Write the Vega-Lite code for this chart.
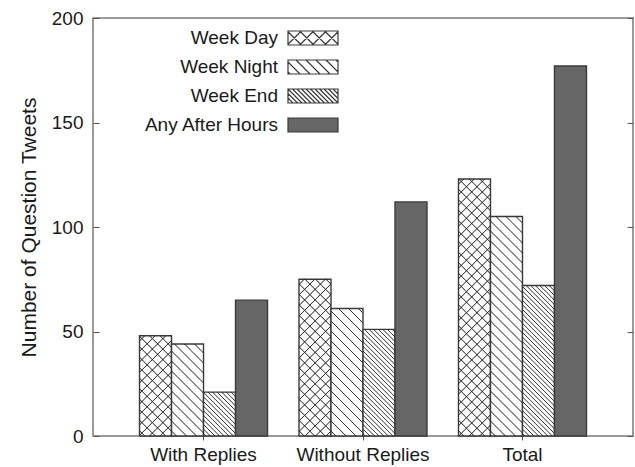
{
  "$schema": "https://vega.github.io/schema/vega-lite/v6.json",
  "width": 540,
  "height": 418,
  "autosize": {"type": "none"},
  "padding": {"left": 93, "top": 18, "right": 2, "bottom": 31},
  "background": "white",
  "config": {
    "font": "Liberation Sans",
    "view": {"stroke": "#7a7a7a", "strokeWidth": 1.5}
  },
  "params": [
    {"name": "nightStops", "value": [
      {"offset":0.016,"color":"transparent"},{"offset":0.02,"color":"#333"},{"offset":0.024,"color":"transparent"},
      {"offset":0.056,"color":"transparent"},{"offset":0.06,"color":"#333"},{"offset":0.064,"color":"transparent"},
      {"offset":0.096,"color":"transparent"},{"offset":0.1,"color":"#333"},{"offset":0.104,"color":"transparent"},
      {"offset":0.136,"color":"transparent"},{"offset":0.14,"color":"#333"},{"offset":0.144,"color":"transparent"},
      {"offset":0.176,"color":"transparent"},{"offset":0.18,"color":"#333"},{"offset":0.184,"color":"transparent"},
      {"offset":0.216,"color":"transparent"},{"offset":0.22,"color":"#333"},{"offset":0.224,"color":"transparent"},
      {"offset":0.256,"color":"transparent"},{"offset":0.26,"color":"#333"},{"offset":0.264,"color":"transparent"},
      {"offset":0.296,"color":"transparent"},{"offset":0.3,"color":"#333"},{"offset":0.304,"color":"transparent"},
      {"offset":0.336,"color":"transparent"},{"offset":0.34,"color":"#333"},{"offset":0.344,"color":"transparent"},
      {"offset":0.376,"color":"transparent"},{"offset":0.38,"color":"#333"},{"offset":0.384,"color":"transparent"},
      {"offset":0.416,"color":"transparent"},{"offset":0.42,"color":"#333"},{"offset":0.424,"color":"transparent"},
      {"offset":0.456,"color":"transparent"},{"offset":0.46,"color":"#333"},{"offset":0.464,"color":"transparent"},
      {"offset":0.496,"color":"transparent"},{"offset":0.5,"color":"#333"},{"offset":0.504,"color":"transparent"},
      {"offset":0.536,"color":"transparent"},{"offset":0.54,"color":"#333"},{"offset":0.544,"color":"transparent"},
      {"offset":0.576,"color":"transparent"},{"offset":0.58,"color":"#333"},{"offset":0.584,"color":"transparent"},
      {"offset":0.616,"color":"transparent"},{"offset":0.62,"color":"#333"},{"offset":0.624,"color":"transparent"},
      {"offset":0.656,"color":"transparent"},{"offset":0.66,"color":"#333"},{"offset":0.664,"color":"transparent"},
      {"offset":0.696,"color":"transparent"},{"offset":0.7,"color":"#333"},{"offset":0.704,"color":"transparent"},
      {"offset":0.736,"color":"transparent"},{"offset":0.74,"color":"#333"},{"offset":0.744,"color":"transparent"},
      {"offset":0.776,"color":"transparent"},{"offset":0.78,"color":"#333"},{"offset":0.784,"color":"transparent"},
      {"offset":0.816,"color":"transparent"},{"offset":0.82,"color":"#333"},{"offset":0.824,"color":"transparent"},
      {"offset":0.856,"color":"transparent"},{"offset":0.86,"color":"#333"},{"offset":0.864,"color":"transparent"},
      {"offset":0.896,"color":"transparent"},{"offset":0.9,"color":"#333"},{"offset":0.904,"color":"transparent"},
      {"offset":0.936,"color":"transparent"},{"offset":0.94,"color":"#333"},{"offset":0.944,"color":"transparent"},
      {"offset":0.976,"color":"transparent"},{"offset":0.98,"color":"#333"},{"offset":0.984,"color":"transparent"}
    ]},
    {"name": "endStops", "value": [
      {"offset":0.0075,"color":"transparent"},{"offset":0.0125,"color":"#333"},{"offset":0.0175,"color":"transparent"},
      {"offset":0.0325,"color":"transparent"},{"offset":0.0375,"color":"#333"},{"offset":0.0425,"color":"transparent"},
      {"offset":0.0575,"color":"transparent"},{"offset":0.0625,"color":"#333"},{"offset":0.0675,"color":"transparent"},
      {"offset":0.0825,"color":"transparent"},{"offset":0.0875,"color":"#333"},{"offset":0.0925,"color":"transparent"},
      {"offset":0.1075,"color":"transparent"},{"offset":0.1125,"color":"#333"},{"offset":0.1175,"color":"transparent"},
      {"offset":0.1325,"color":"transparent"},{"offset":0.1375,"color":"#333"},{"offset":0.1425,"color":"transparent"},
      {"offset":0.1575,"color":"transparent"},{"offset":0.1625,"color":"#333"},{"offset":0.1675,"color":"transparent"},
      {"offset":0.1825,"color":"transparent"},{"offset":0.1875,"color":"#333"},{"offset":0.1925,"color":"transparent"},
      {"offset":0.2075,"color":"transparent"},{"offset":0.2125,"color":"#333"},{"offset":0.2175,"color":"transparent"},
      {"offset":0.2325,"color":"transparent"},{"offset":0.2375,"color":"#333"},{"offset":0.2425,"color":"transparent"},
      {"offset":0.2575,"color":"transparent"},{"offset":0.2625,"color":"#333"},{"offset":0.2675,"color":"transparent"},
      {"offset":0.2825,"color":"transparent"},{"offset":0.2875,"color":"#333"},{"offset":0.2925,"color":"transparent"},
      {"offset":0.3075,"color":"transparent"},{"offset":0.3125,"color":"#333"},{"offset":0.3175,"color":"transparent"},
      {"offset":0.3325,"color":"transparent"},{"offset":0.3375,"color":"#333"},{"offset":0.3425,"color":"transparent"},
      {"offset":0.3575,"color":"transparent"},{"offset":0.3625,"color":"#333"},{"offset":0.3675,"color":"transparent"},
      {"offset":0.3825,"color":"transparent"},{"offset":0.3875,"color":"#333"},{"offset":0.3925,"color":"transparent"},
      {"offset":0.4075,"color":"transparent"},{"offset":0.4125,"color":"#333"},{"offset":0.4175,"color":"transparent"},
      {"offset":0.4325,"color":"transparent"},{"offset":0.4375,"color":"#333"},{"offset":0.4425,"color":"transparent"},
      {"offset":0.4575,"color":"transparent"},{"offset":0.4625,"color":"#333"},{"offset":0.4675,"color":"transparent"},
      {"offset":0.4825,"color":"transparent"},{"offset":0.4875,"color":"#333"},{"offset":0.4925,"color":"transparent"},
      {"offset":0.5075,"color":"transparent"},{"offset":0.5125,"color":"#333"},{"offset":0.5175,"color":"transparent"},
      {"offset":0.5325,"color":"transparent"},{"offset":0.5375,"color":"#333"},{"offset":0.5425,"color":"transparent"},
      {"offset":0.5575,"color":"transparent"},{"offset":0.5625,"color":"#333"},{"offset":0.5675,"color":"transparent"},
      {"offset":0.5825,"color":"transparent"},{"offset":0.5875,"color":"#333"},{"offset":0.5925,"color":"transparent"},
      {"offset":0.6075,"color":"transparent"},{"offset":0.6125,"color":"#333"},{"offset":0.6175,"color":"transparent"},
      {"offset":0.6325,"color":"transparent"},{"offset":0.6375,"color":"#333"},{"offset":0.6425,"color":"transparent"},
      {"offset":0.6575,"color":"transparent"},{"offset":0.6625,"color":"#333"},{"offset":0.6675,"color":"transparent"},
      {"offset":0.6825,"color":"transparent"},{"offset":0.6875,"color":"#333"},{"offset":0.6925,"color":"transparent"},
      {"offset":0.7075,"color":"transparent"},{"offset":0.7125,"color":"#333"},{"offset":0.7175,"color":"transparent"},
      {"offset":0.7325,"color":"transparent"},{"offset":0.7375,"color":"#333"},{"offset":0.7425,"color":"transparent"},
      {"offset":0.7575,"color":"transparent"},{"offset":0.7625,"color":"#333"},{"offset":0.7675,"color":"transparent"},
      {"offset":0.7825,"color":"transparent"},{"offset":0.7875,"color":"#333"},{"offset":0.7925,"color":"transparent"},
      {"offset":0.8075,"color":"transparent"},{"offset":0.8125,"color":"#333"},{"offset":0.8175,"color":"transparent"},
      {"offset":0.8325,"color":"transparent"},{"offset":0.8375,"color":"#333"},{"offset":0.8425,"color":"transparent"},
      {"offset":0.8575,"color":"transparent"},{"offset":0.8625,"color":"#333"},{"offset":0.8675,"color":"transparent"},
      {"offset":0.8825,"color":"transparent"},{"offset":0.8875,"color":"#333"},{"offset":0.8925,"color":"transparent"},
      {"offset":0.9075,"color":"transparent"},{"offset":0.9125,"color":"#333"},{"offset":0.9175,"color":"transparent"},
      {"offset":0.9325,"color":"transparent"},{"offset":0.9375,"color":"#333"},{"offset":0.9425,"color":"transparent"},
      {"offset":0.9575,"color":"transparent"},{"offset":0.9625,"color":"#333"},{"offset":0.9675,"color":"transparent"},
      {"offset":0.9825,"color":"transparent"},{"offset":0.9875,"color":"#333"},{"offset":0.9925,"color":"transparent"}
    ]},
    {"name": "dayStops", "value": [
      {"offset":0.014,"color":"transparent"},{"offset":0.0175,"color":"#333"},{"offset":0.021,"color":"transparent"},
      {"offset":0.049,"color":"transparent"},{"offset":0.0525,"color":"#333"},{"offset":0.056,"color":"transparent"},
      {"offset":0.084,"color":"transparent"},{"offset":0.0875,"color":"#333"},{"offset":0.091,"color":"transparent"},
      {"offset":0.119,"color":"transparent"},{"offset":0.1225,"color":"#333"},{"offset":0.126,"color":"transparent"},
      {"offset":0.154,"color":"transparent"},{"offset":0.1575,"color":"#333"},{"offset":0.161,"color":"transparent"},
      {"offset":0.189,"color":"transparent"},{"offset":0.1925,"color":"#333"},{"offset":0.196,"color":"transparent"},
      {"offset":0.224,"color":"transparent"},{"offset":0.2275,"color":"#333"},{"offset":0.231,"color":"transparent"},
      {"offset":0.259,"color":"transparent"},{"offset":0.2625,"color":"#333"},{"offset":0.266,"color":"transparent"},
      {"offset":0.294,"color":"transparent"},{"offset":0.2975,"color":"#333"},{"offset":0.301,"color":"transparent"},
      {"offset":0.329,"color":"transparent"},{"offset":0.3325,"color":"#333"},{"offset":0.336,"color":"transparent"},
      {"offset":0.364,"color":"transparent"},{"offset":0.3675,"color":"#333"},{"offset":0.371,"color":"transparent"},
      {"offset":0.399,"color":"transparent"},{"offset":0.4025,"color":"#333"},{"offset":0.406,"color":"transparent"},
      {"offset":0.434,"color":"transparent"},{"offset":0.4375,"color":"#333"},{"offset":0.441,"color":"transparent"},
      {"offset":0.469,"color":"transparent"},{"offset":0.4725,"color":"#333"},{"offset":0.476,"color":"transparent"},
      {"offset":0.504,"color":"transparent"},{"offset":0.5075,"color":"#333"},{"offset":0.511,"color":"transparent"},
      {"offset":0.539,"color":"transparent"},{"offset":0.5425,"color":"#333"},{"offset":0.546,"color":"transparent"},
      {"offset":0.574,"color":"transparent"},{"offset":0.5775,"color":"#333"},{"offset":0.581,"color":"transparent"},
      {"offset":0.609,"color":"transparent"},{"offset":0.6125,"color":"#333"},{"offset":0.616,"color":"transparent"},
      {"offset":0.644,"color":"transparent"},{"offset":0.6475,"color":"#333"},{"offset":0.651,"color":"transparent"},
      {"offset":0.679,"color":"transparent"},{"offset":0.6825,"color":"#333"},{"offset":0.686,"color":"transparent"},
      {"offset":0.714,"color":"transparent"},{"offset":0.7175,"color":"#333"},{"offset":0.721,"color":"transparent"},
      {"offset":0.749,"color":"transparent"},{"offset":0.7525,"color":"#333"},{"offset":0.756,"color":"transparent"},
      {"offset":0.784,"color":"transparent"},{"offset":0.7875,"color":"#333"},{"offset":0.791,"color":"transparent"},
      {"offset":0.819,"color":"transparent"},{"offset":0.8225,"color":"#333"},{"offset":0.826,"color":"transparent"},
      {"offset":0.854,"color":"transparent"},{"offset":0.8575,"color":"#333"},{"offset":0.861,"color":"transparent"},
      {"offset":0.889,"color":"transparent"},{"offset":0.8925,"color":"#333"},{"offset":0.896,"color":"transparent"},
      {"offset":0.924,"color":"transparent"},{"offset":0.9275,"color":"#333"},{"offset":0.931,"color":"transparent"},
      {"offset":0.959,"color":"transparent"},{"offset":0.9625,"color":"#333"},{"offset":0.966,"color":"transparent"}
    ]}
  ],
  "data": {
    "values": [
      {"group": "With Replies", "series": "Week Day", "count": 48},
      {"group": "With Replies", "series": "Week Night", "count": 44},
      {"group": "With Replies", "series": "Week End", "count": 21},
      {"group": "With Replies", "series": "Any After Hours", "count": 65},
      {"group": "Without Replies", "series": "Week Day", "count": 75},
      {"group": "Without Replies", "series": "Week Night", "count": 61},
      {"group": "Without Replies", "series": "Week End", "count": 51},
      {"group": "Without Replies", "series": "Any After Hours", "count": 112},
      {"group": "Total", "series": "Week Day", "count": 123},
      {"group": "Total", "series": "Week Night", "count": 105},
      {"group": "Total", "series": "Week End", "count": 72},
      {"group": "Total", "series": "Any After Hours", "count": 177}
    ]
  },
  "encoding": {
    "x": {
      "field": "group",
      "type": "nominal",
      "sort": ["With Replies", "Without Replies", "Total"],
      "scale": {"domain": ["With Replies", "Without Replies", "Total"], "paddingInner": 0, "paddingOuter": 0.193},
      "axis": {
        "title": null,
        "labelAngle": 0,
        "domain": false,
        "grid": false,
        "tickSize": 4,
        "tickColor": "#555",
        "tickWidth": 1,
        "labelPadding": 5,
        "labelFont": "Liberation Sans",
        "labelFontSize": 19,
        "labelColor": "#1a1a1a"
      }
    },
    "xOffset": {
      "field": "series",
      "type": "nominal",
      "scale": {"domain": ["Week Day", "Week Night", "Week End", "Any After Hours"], "paddingInner": 0, "paddingOuter": 0.492}
    }
  },
  "layer": [
    {
      "mark": {"type": "bar", "stroke": "#3a3a3a", "strokeWidth": 1.4},
      "encoding": {
        "y": {
          "field": "count",
          "type": "quantitative",
          "scale": {"domain": [0, 200], "nice": false},
          "axis": {
            "orient": "left",
            "values": [0, 50, 100, 150, 200],
            "domain": false,
            "grid": false,
            "tickSize": -6,
            "tickColor": "#555",
            "labelPadding": 16,
            "labelFont": "Liberation Sans",
            "labelFontSize": 19,
            "labelColor": "#1a1a1a",
            "title": "Number of Question Tweets",
            "titleFont": "Liberation Sans",
            "titleFontSize": 21,
            "titleFontWeight": "normal",
            "titleColor": "#1a1a1a",
            "titlePadding": 12
          }
        },
        "fill": {
          "field": "series",
          "type": "nominal",
          "scale": {
            "domain": ["Week Day", "Week Night", "Week End", "Any After Hours"],
            "range": ["#ffffff", "#ffffff", "#ffffff", "#666666"]
          },
          "legend": {
            "orient": "none",
            "legendX": 201.5,
            "legendY": 1.5,
            "title": null,
            "padding": 0,
            "symbolSize": 1225,
            "symbolType": "M-1.429,-0.4H1.429V0.4H-1.429Z",
            "symbolStrokeWidth": 1.2,
            "symbolStrokeColor": "#3a3a3a",
            "labelFont": "Liberation Sans",
            "labelFontSize": 19,
            "labelColor": "#1a1a1a",
            "labelAlign": "right",
            "labelOffset": -53.5,
            "labelLimit": 300,
            "rowPadding": 0,
            "encode": {
              "symbols": {
                "update": {
                  "stroke": {"value": "#3a3a3a"},
                  "strokeWidth": {"value": 1.2},
                  "shape": {"signal": "datum.value === 'Week Day' ? 'M-1.429,-0.4H1.429V0.4H-1.429ZM-1.429,-0.357L-0.671,0.4M-0.757,-0.4L0.043,0.4M-0.043,-0.4L0.757,0.4M0.671,-0.4L1.429,0.357M-0.671,-0.4L-1.429,0.357M0.043,-0.4L-0.757,0.4M0.757,-0.4L-0.043,0.4M1.429,-0.357L0.671,0.4' : datum.value === 'Week Night' ? 'M-1.429,-0.4H1.429V0.4H-1.429ZM-1.429,0.286L-1.314,0.4M-1.429,-0.286L-0.743,0.4M-0.971,-0.4L-0.171,0.4M-0.4,-0.4L0.4,0.4M0.171,-0.4L0.971,0.4M0.743,-0.4L1.429,0.286M1.314,-0.4L1.429,-0.286' : datum.value === 'Week End' ? 'M-1.429,-0.4H1.429V0.4H-1.429ZM-1.429,0.114L-1.143,0.4M-1.429,-0.143L-0.886,0.4M-1.429,-0.4L-0.629,0.4M-1.171,-0.4L-0.371,0.4M-0.914,-0.4L-0.114,0.4M-0.657,-0.4L0.143,0.4M-0.4,-0.4L0.4,0.4M-0.143,-0.4L0.657,0.4M0.114,-0.4L0.914,0.4M0.371,-0.4L1.171,0.4M0.629,-0.4L1.429,0.4M0.886,-0.4L1.429,0.143M1.143,-0.4L1.429,-0.114' : 'M-1.429,-0.4H1.429V0.4H-1.429Z'"}
                }
              }
            }
          }
        }
      }
    },
    {
      "transform": [{"filter": "datum.series === 'Week Night'"}],
      "mark": {
        "type": "bar",
        "fill": {"expr": "{gradient: 'linear', x1: 0, y1: 1, x2: 250 * bandwidth('xOffset') / (pow(bandwidth('xOffset'), 2) + pow(scale('y', 0) - scale('y', datum.count), 2)), y2: 1 - 250 * (scale('y', 0) - scale('y', datum.count)) / (pow(bandwidth('xOffset'), 2) + pow(scale('y', 0) - scale('y', datum.count), 2)), stops: nightStops}"}
      },
      "encoding": {
        "y": {
          "field": "count",
          "type": "quantitative",
          "scale": {"domain": [0, 200], "nice": false},
          "axis": {
            "orient": "right",
            "values": [0, 50, 100, 150, 200],
            "domain": false,
            "grid": false,
            "labels": false,
            "tickSize": -6,
            "tickColor": "#555",
            "title": null
          }
        }
      }
    },
    {
      "transform": [{"filter": "datum.series === 'Week End'"}],
      "mark": {
        "type": "bar",
        "fill": {"expr": "{gradient: 'linear', x1: 0, y1: 1, x2: 184 * bandwidth('xOffset') / (pow(bandwidth('xOffset'), 2) + pow(scale('y', 0) - scale('y', datum.count), 2)), y2: 1 - 184 * (scale('y', 0) - scale('y', datum.count)) / (pow(bandwidth('xOffset'), 2) + pow(scale('y', 0) - scale('y', datum.count), 2)), stops: endStops}"}
      },
      "encoding": {
        "y": {"field": "count", "type": "quantitative", "scale": {"domain": [0, 200], "nice": false}, "axis": null}
      }
    },
    {
      "transform": [{"filter": "datum.series === 'Week Day'"}],
      "mark": {
        "type": "bar",
        "fill": {"expr": "{gradient: 'linear', x1: 0, y1: 1, x2: 300 * bandwidth('xOffset') / (pow(bandwidth('xOffset'), 2) + pow(scale('y', 0) - scale('y', datum.count), 2)), y2: 1 - 300 * (scale('y', 0) - scale('y', datum.count)) / (pow(bandwidth('xOffset'), 2) + pow(scale('y', 0) - scale('y', datum.count), 2)), stops: dayStops}"}
      },
      "encoding": {
        "y": {"field": "count", "type": "quantitative", "scale": {"domain": [0, 200], "nice": false}, "axis": null}
      }
    },
    {
      "transform": [{"filter": "datum.series === 'Week Day'"}],
      "mark": {
        "type": "bar",
        "fill": {"expr": "{gradient: 'linear', x1: 0, y1: 0, x2: 300 * bandwidth('xOffset') / (pow(bandwidth('xOffset'), 2) + pow(scale('y', 0) - scale('y', datum.count), 2)), y2: 300 * (scale('y', 0) - scale('y', datum.count)) / (pow(bandwidth('xOffset'), 2) + pow(scale('y', 0) - scale('y', datum.count), 2)), stops: dayStops}"}
      },
      "encoding": {
        "y": {"field": "count", "type": "quantitative", "scale": {"domain": [0, 200], "nice": false}, "axis": null}
      }
    }
  ],
  "resolve": {"axis": {"y": "independent"}}
}
